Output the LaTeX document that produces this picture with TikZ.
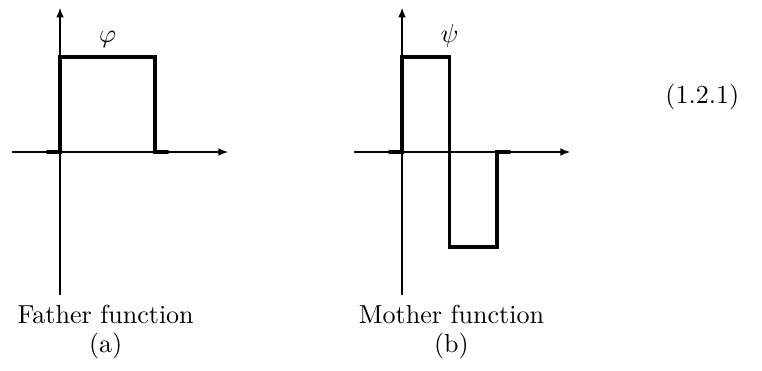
\documentclass[tikz,border=0pt]{standalone}
\usetikzlibrary{arrows.meta,calc}
\usepackage{tkz-euclide}

\begin{document}
\begin{tikzpicture}[scale=1.283]
\useasboundingbox (-0.632,-2.305) rectangle (7.389,1.6);
\tkzSetUpLine[line width=0.6pt,color=black]

% axes
\tkzDefPoints{-0.5/0/XA,1.77/0/XB,0/-1.5/YA,0/1.52/YB}
\tkzDefPoints{3.1/0/UA,5.37/0/UB,3.6/-1.5/VA,3.6/1.52/VB}
\tkzDrawSegments[-{Latex[length=3.8pt,width=3pt]}](XA,XB YA,YB UA,UB VA,VB)

% father function
\tkzDefPoints{-0.13/0/PA,0/0/O,0/1/PB,1/1/PC,1/0/PD,1.13/0/PE}
\tkzDrawPolySeg[line width=1.5pt](PA,O,PB,PC,PD,PE)

% mother function
\tkzDefPoints{3.47/0/QA,3.6/0/Q,3.6/1/QB,4.1/1/QC,4.1/-1/QD,4.6/-1/QE,4.6/0/QF,4.73/0/QG}
\tkzDrawPolySeg[line width=1.5pt](QA,Q,QB,QC,QD,QE,QF,QG)

\tkzDefPoints{0.5/1/PM,4.1/1/QM}
\node[above] (phi) at (PM) {$\varphi$};
\node[above] (psi) at (QM) {$\psi$};

\node (father) at (0.48,-1.705) {Father function};
\node (pa) at (0.48,-2.04) {(a)};
\node (mother) at (4.12,-1.705) {Mother function};
\node (pb) at (4.12,-2.04) {(b)};

\node (eqno) at (6.76,0.58) {(1.2.1)};
\end{tikzpicture}
\end{document}
